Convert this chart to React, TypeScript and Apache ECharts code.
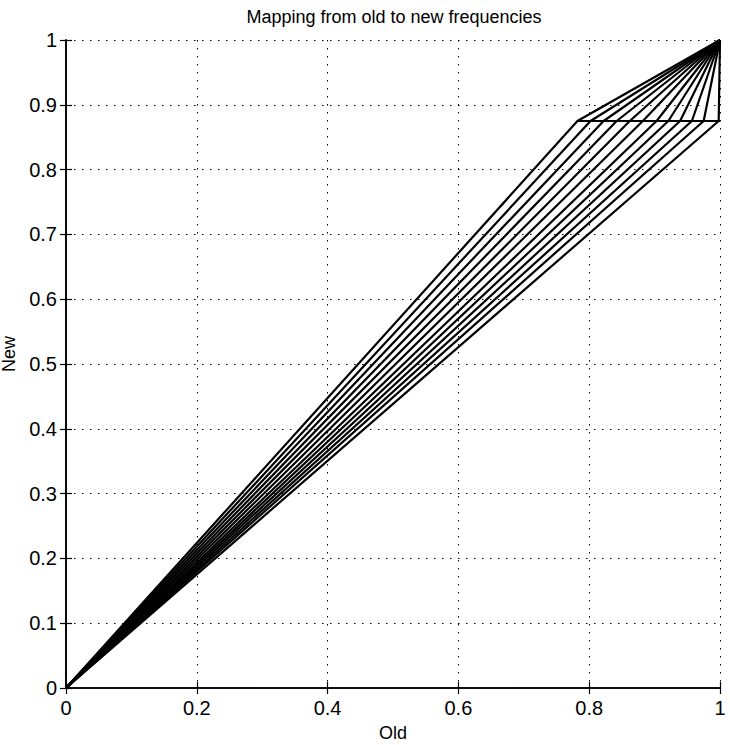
import React, { useEffect, useRef } from "react";
import * as echarts from "echarts";

// Knee points (old frequency where each warped line reaches the break level)
const kneeOld: number[] = [0.782, 0.802, 0.822, 0.842, 0.862, 0.882, 0.903, 0.921, 0.939, 0.957, 0.975, 0.998];
const kneeNew = 0.875;
const startPoint: [number, number] = [0, 0];
const endPoint: [number, number] = [1, 1];
const breakLine: [number, number][] = [[0.782, 0.875], [1.0, 0.875]];
const xTicks: number[] = [0, 0.2, 0.4, 0.6, 0.8, 1];
const yTicks: number[] = [0, 0.1, 0.2, 0.3, 0.4, 0.5, 0.6, 0.7, 0.8, 0.9, 1];

const FONT = "'Liberation Sans', Arial, Helvetica, sans-serif";

export default function App() {
  const ref = useRef<HTMLDivElement>(null);
  useEffect(() => {
    if (!ref.current) return;
    const chart = echarts.init(ref.current, undefined, { renderer: "svg" });
    const fmt = (v: number) => String(Math.round(v * 100) / 100);
    const lineSeries = kneeOld.map((k, i) => ({
      type: "line" as const,
      name: "w" + i,
      data: [startPoint, [k, kneeNew], endPoint],
      symbol: "none",
      lineStyle: { color: "#000", width: 2.2 },
      silent: true,
    }));
    const gridLine = { show: true, lineStyle: { color: "#000", width: 1, type: [1.5, 6.5] as any } };
    const tick = { show: true, inside: true, length: 6, lineStyle: { color: "#000", width: 1.2 } };
    const axisLine = { show: true, lineStyle: { color: "#000", width: 1.6 } };
    chart.setOption({
      animation: false,
      backgroundColor: "#fff",
      title: {
        text: "Mapping from old to new frequencies",
        left: 389,
        textAlign: "center",
        top: 3,
        textStyle: { fontFamily: FONT, fontSize: 18, fontWeight: "normal", color: "#000" },
      },
      grid: { left: 66, right: 10, top: 40, bottom: 57, containLabel: false, outerBoundsMode: "none" },
      xAxis: [
        {
          type: "value",
          min: xTicks[0],
          max: xTicks[xTicks.length - 1],
          interval: 0.2,
          name: "Old",
          nameLocation: "middle",
          nameGap: 36,
          nameTextStyle: { fontFamily: FONT, fontSize: 18, color: "#000" },
          axisLine,
          axisTick: tick,
          splitLine: gridLine,
          axisLabel: { fontFamily: FONT, fontSize: 20, color: "#000", margin: 10, formatter: fmt },
        },
        {
          type: "value",
          position: "top",
          min: 0,
          max: 1,
          interval: 0.2,
          axisLine,
          axisTick: tick,
          splitLine: { show: false },
          axisLabel: { show: false },
        },
      ],
      yAxis: [
        {
          type: "value",
          min: yTicks[0],
          max: yTicks[yTicks.length - 1],
          interval: 0.1,
          name: "New",
          nameLocation: "middle",
          nameGap: 45,
          nameTextStyle: { fontFamily: FONT, fontSize: 18, color: "#000", padding: [0, 0, 0, 20] },
          axisLine,
          axisTick: tick,
          splitLine: gridLine,
          axisLabel: { fontFamily: FONT, fontSize: 20, color: "#000", margin: 9, formatter: fmt },
        },
        {
          type: "value",
          position: "right",
          min: 0,
          max: 1,
          interval: 0.1,
          axisLine,
          axisTick: tick,
          splitLine: { show: false },
          axisLabel: { show: false },
        },
      ],
      series: [
        ...lineSeries,
        {
          type: "line",
          name: "break",
          data: breakLine,
          symbol: "none",
          lineStyle: { color: "#000", width: 2.2 },
          silent: true,
        },
      ],
    });
    return () => chart.dispose();
  }, []);
  return <div ref={ref} style={{ width: 730, height: 745, position: "absolute", left: 0, top: 0 }} />;
}
